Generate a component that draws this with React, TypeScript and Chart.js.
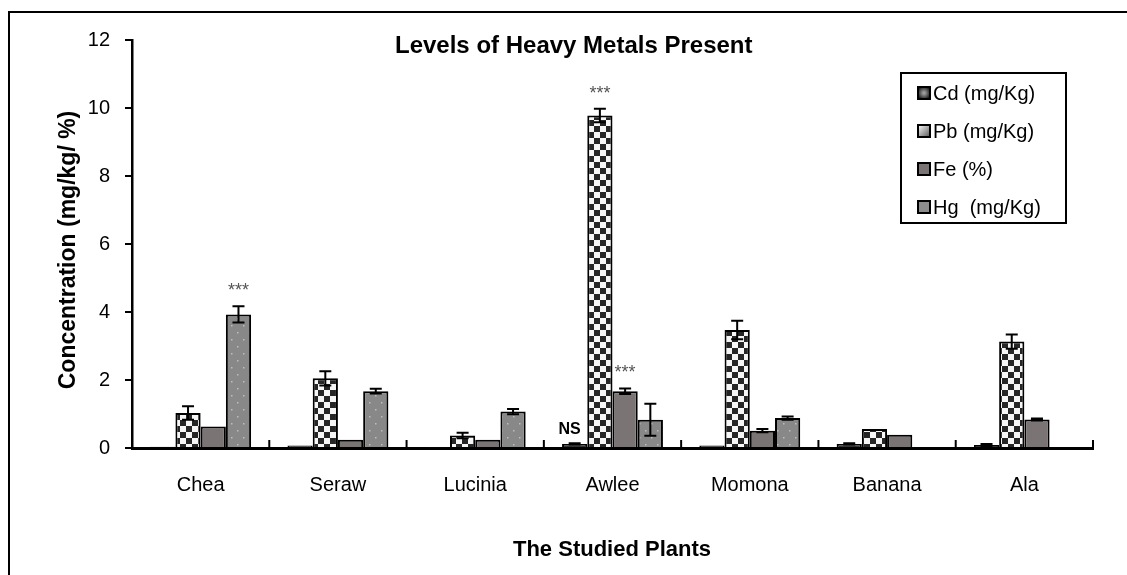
import React, { useEffect, useRef } from 'react';
import { Chart, registerables } from 'chart.js';

Chart.register(...registerables);

const categories = ['Chea', 'Seraw', 'Lucinia', 'Awlee', 'Momona', 'Banana', 'Ala'];
const seriesNames = ['Cd (mg/Kg)', 'Pb (mg/Kg)', 'Fe (%)', 'Hg  (mg/Kg)'];

const cdValues = [0.04, 0.07, 0.02, 0.12, 0.07, 0.12, 0.09];
const pbValues = [1.03, 2.05, 0.37, 9.78, 3.47, 0.56, 3.13];
const feValues = [0.63, 0.24, 0.24, 1.67, 0.51, 0.39, 0.84];
const hgValues = [3.93, 1.67, 1.07, 0.83, 0.88, 0, 0];

const cdErrors = [0, 0, 0, 0.02, 0, 0.02, 0.03];
const pbErrors = [0.2, 0.21, 0.08, 0.2, 0.27, 0, 0.21];
const feErrors = [0, 0, 0, 0.08, 0.05, 0, 0.03];
const hgErrors = [0.24, 0.07, 0.08, 0.47, 0.05, 0, 0];

const yTickValues = [0, 2, 4, 6, 8, 10, 12];

const marks = [
  { cat: 0, series: 3, text: '***' },
  { cat: 3, series: 1, text: '***' },
  { cat: 3, series: 2, text: '***' },
  { cat: 3, series: 0, text: 'NS' },
];

const chartTitle = 'Levels of Heavy Metals Present';
const xTitle = 'The Studied Plants';
const yTitle = 'Concentration (mg/kg/ %)';

const FONT = '"Liberation Sans", Arial, sans-serif';

function makeChecker(): CanvasPattern | string {
  const c = document.createElement('canvas');
  c.width = 12;
  c.height = 12;
  const g = c.getContext('2d');
  if (!g) return '#888';
  g.fillStyle = '#f6f6f6';
  g.fillRect(0, 0, 12, 12);
  g.fillStyle = '#262626';
  g.fillRect(0, 0, 6, 6);
  g.fillRect(6, 6, 6, 6);
  return g.createPattern(c, 'repeat') || '#888';
}

function makeDots(): CanvasPattern | string {
  const c = document.createElement('canvas');
  c.width = 12;
  c.height = 14;
  const g = c.getContext('2d');
  if (!g) return '#8a8a8a';
  g.fillStyle = '#888888';
  g.fillRect(0, 0, 12, 14);
  g.fillStyle = '#bdbdbd';
  g.fillRect(3, 3, 1.5, 1.5);
  g.fillRect(9, 10, 1.5, 1.5);
  return g.createPattern(c, 'repeat') || '#8a8a8a';
}

export default function App() {
  const ref = useRef<HTMLCanvasElement | null>(null);

  useEffect(() => {
    const canvas = ref.current;
    if (!canvas) return;
    const checker = makeChecker();
    const dots = makeDots();
    const cdColor = '#333333';
    const feColor = '#7a7474';
    const fills = [cdColor, checker, feColor, dots];
    const values = [cdValues, pbValues, feValues, hgValues];
    const errors = [cdErrors, pbErrors, feErrors, hgErrors];

    const framePlugin = {
      id: 'frame',
      beforeDraw(chart: any) {
        const ctx = chart.ctx;
        ctx.save();
        ctx.fillStyle = '#fff';
        ctx.fillRect(0, 0, chart.width, chart.height);
        ctx.strokeStyle = '#000';
        ctx.lineWidth = 2;
        ctx.strokeRect(9, 12, chart.width + 20, chart.height + 20);
        ctx.restore();
      },
    };

    const decorPlugin = {
      id: 'decor',
      afterDatasetsDraw(chart: any) {
        const ctx = chart.ctx;
        const ys = chart.scales.y;
        const area = chart.chartArea;
        ctx.save();
        ctx.strokeStyle = '#000';
        ctx.lineWidth = 2;
        chart.data.datasets.forEach((ds: any, di: number) => {
          const meta = chart.getDatasetMeta(di);
          meta.data.forEach((bar: any, i: number) => {
            const e = errors[di][i];
            if (!e) return;
            const v = ds.data[i];
            const x = bar.x;
            const top = ys.getPixelForValue(v + e);
            const bot = ys.getPixelForValue(Math.max(0, v - e));
            ctx.beginPath();
            ctx.moveTo(x, top);
            ctx.lineTo(x, bot);
            ctx.moveTo(x - 6, top);
            ctx.lineTo(x + 6, top);
            ctx.moveTo(x - 6, bot);
            ctx.lineTo(x + 6, bot);
            ctx.stroke();
          });
        });
        const n = categories.length;
        const w = (area.right - area.left) / n;
        ctx.lineWidth = 2;
        for (let i = 1; i <= n; i++) {
          const x = area.left + i * w;
          ctx.beginPath();
          ctx.moveTo(x, area.bottom);
          ctx.lineTo(x, area.bottom - 8);
          ctx.stroke();
        }
        marks.forEach((m) => {
          const bar = chart.getDatasetMeta(m.series).data[m.cat];
          const v = values[m.series][m.cat];
          const e = errors[m.series][m.cat];
          const top = ys.getPixelForValue(v + e);
          if (m.text === 'NS') {
            ctx.font = `bold 16px ${FONT}`;
            ctx.fillStyle = '#000';
            ctx.textAlign = 'center';
            ctx.textBaseline = 'middle';
            ctx.fillText(m.text, bar.x - 5, top - 14);
          } else {
            ctx.font = `18px ${FONT}`;
            ctx.fillStyle = '#555';
            ctx.textAlign = 'center';
            ctx.textBaseline = 'middle';
            ctx.fillText(m.text, bar.x, top - 15);
          }
        });
        ctx.restore();
      },
      afterDraw(chart: any) {
        const ctx = chart.ctx;
        ctx.save();
        ctx.fillStyle = '#000';
        ctx.font = `bold 24px ${FONT}`;
        ctx.textAlign = 'left';
        ctx.textBaseline = 'alphabetic';
        ctx.fillText(chartTitle, 395, 53);
        ctx.font = `bold 22px ${FONT}`;
        ctx.textAlign = 'center';
        ctx.fillText(xTitle, 612, 556);
        ctx.font = `bold 23px ${FONT}`;
        ctx.translate(75, 250);
        ctx.rotate(-Math.PI / 2);
        ctx.textBaseline = 'alphabetic';
        ctx.fillText(yTitle, 0, 0);
        ctx.setTransform(1, 0, 0, 1, 0, 0);
        const lx = 901, ly = 73, lw = 165, lh = 150;
        ctx.lineWidth = 2;
        ctx.strokeStyle = '#000';
        ctx.strokeRect(lx, ly, lw, lh);
        const rowY = [93, 131, 169, 207];
        seriesNames.forEach((name, i) => {
          const sy = rowY[i];
          const sx = 918;
          if (i === 0) {
            const gr = ctx.createRadialGradient(sx + 6, sy, 1, sx + 6, sy, 7);
            gr.addColorStop(0, '#9a9a9a');
            gr.addColorStop(1, '#111');
            ctx.fillStyle = gr;
          } else if (i === 1) {
            const gr = ctx.createLinearGradient(sx, sy - 6, sx + 12, sy + 6);
            gr.addColorStop(0, '#ffffff');
            gr.addColorStop(1, '#555');
            ctx.fillStyle = gr;
          } else if (i === 2) {
            ctx.fillStyle = feColor;
          } else {
            ctx.fillStyle = '#8c8c8c';
          }
          ctx.fillRect(sx, sy - 6, 12, 12);
          ctx.lineWidth = 2;
          ctx.strokeRect(sx, sy - 6, 12, 12);
          ctx.fillStyle = '#000';
          ctx.font = `20px ${FONT}`;
          ctx.textAlign = 'left';
          ctx.textBaseline = 'middle';
          ctx.fillText(name, 933, sy + 1);
        });
        ctx.restore();
      },
    };

    const chart = new Chart(canvas, {
      type: 'bar',
      data: {
        labels: categories,
        datasets: seriesNames.map((name, i) => ({
          label: name,
          data: values[i],
          backgroundColor: fills[i] as any,
          borderColor: '#000',
          borderWidth: (c: any) => (c.raw ? 2 : 0),
          categoryPercentage: 0.735,
          barPercentage: 1,
        })),
      },
      options: {
        responsive: false,
        animation: false,
        devicePixelRatio: 1,
        layout: { padding: { top: 40, right: 34, left: 0, bottom: 0 } },
        plugins: {
          legend: { display: false },
          title: { display: false },
          tooltip: { enabled: false },
        },
        scales: {
          x: {
            grid: { display: false, drawTicks: false },
            border: { display: true, color: '#000', width: 3 },
            ticks: { color: '#000', font: { family: FONT, size: 20 }, padding: 25 },
            afterFit: (s: any) => {
              s.height = 127;
            },
          },
          y: {
            min: 0,
            max: 12,
            afterBuildTicks: (s: any) => {
              s.ticks = yTickValues.map((v) => ({ value: v }));
            },
            grid: { drawOnChartArea: false, drawTicks: true, tickLength: 7, color: '#000', lineWidth: 2 },
            border: { display: true, color: '#000', width: 2.5 },
            ticks: { color: '#000', font: { family: FONT, size: 20 }, padding: 15 },
            afterFit: (s: any) => {
              s.width = 132;
            },
          },
        },
      },
      plugins: [framePlugin, decorPlugin],
    });
    return () => chart.destroy();
  }, []);

  return (
    <div style={{ position: 'absolute', left: 0, top: 0, width: 1127, height: 575 }}>
      <canvas ref={ref} width={1127} height={575} style={{ width: 1127, height: 575, display: 'block' }} />
    </div>
  );
}
